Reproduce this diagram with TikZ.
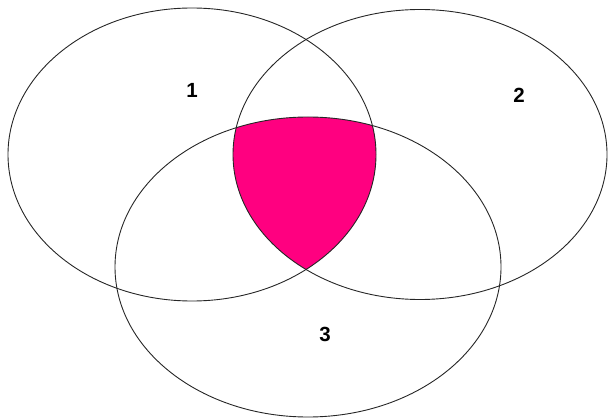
\documentclass[tikz,border=0pt]{standalone}
\usepackage{fontspec}
\setsansfont{Liberation Sans}
\usepackage{xcolor}
\usepackage{tikz}
\definecolor{venpink}{RGB}{255,0,128}

\begin{document}
\begin{tikzpicture}[
x=1pt,y=-1pt,
ring/.style={draw=black!85,line width=0.9pt},
num/.style={font=\sffamily\bfseries\fontsize{20.5}{22}\selectfont,inner sep=0pt}
]
\useasboundingbox (0,0) rectangle (609,419);
% common part of all three sets
\begin{scope}
\clip (192,154.5) ellipse [x radius=184, y radius=146.5];
\clip (420,154.5) ellipse [x radius=187, y radius=145];
\fill[venpink] (308,267) ellipse [x radius=193, y radius=150];
\end{scope}
\draw[ring] (192,154.5) ellipse [x radius=184, y radius=146.5];
\draw[ring] (420,154.5) ellipse [x radius=187, y radius=145];
\draw[ring] (308,267) ellipse [x radius=193, y radius=150];
\node[num] (one) at (192,90) {1};
\node[num] (two) at (519,95) {2};
\node[num] (three) at (325,334) {3};
\end{tikzpicture}
\end{document}
